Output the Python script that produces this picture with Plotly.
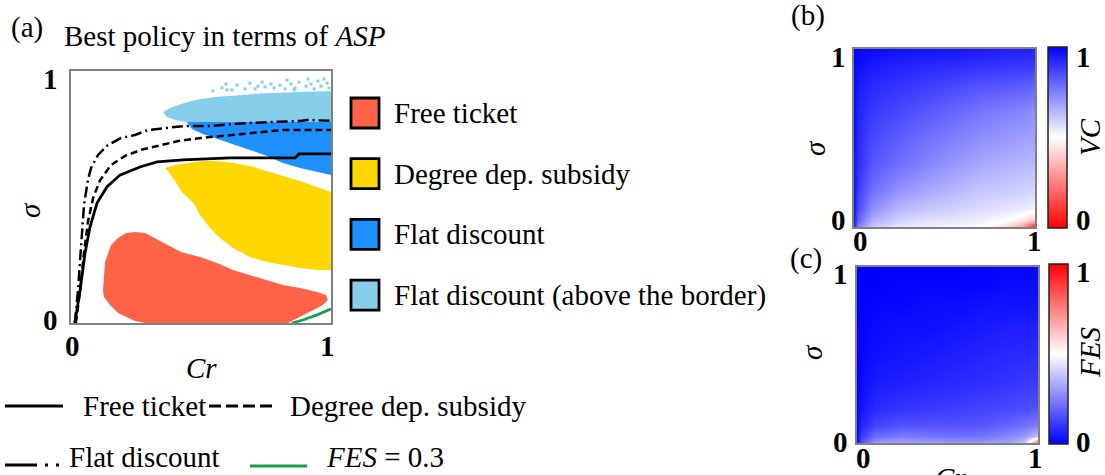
import plotly.graph_objects as go

W, H = 1105, 475
SERIF = "Liberation Serif"
FS = 29

# ---------------- panel (a): best-policy regions in (Cr, sigma) ----------------
free_x = [0.123, 0.127, 0.131, 0.154, 0.181, 0.212, 0.246, 0.285, 0.323, 0.373, 0.423,
          0.496, 0.562, 0.623, 0.688, 0.754, 0.815, 0.881, 0.946, 0.981, 0.988, 0.969,
          0.919, 0.869, 0.835, 0.285, 0.246, 0.181, 0.150, 0.127]
free_y = [0.131, 0.190, 0.242, 0.310, 0.337, 0.357, 0.361, 0.357, 0.337, 0.310, 0.282,
          0.262, 0.238, 0.210, 0.190, 0.171, 0.151, 0.139, 0.123, 0.111, 0.091, 0.071,
          0.044, 0.020, 0.0, 0.0, 0.008, 0.040, 0.071, 0.103]

degree_x = [0.362, 0.400, 0.450, 0.508, 0.562, 0.623, 0.688, 0.754, 0.815, 0.881, 0.946,
            1.0, 1.0, 0.946, 0.881, 0.815, 0.754, 0.688, 0.623, 0.573, 0.535, 0.496,
            0.477, 0.450, 0.423, 0.400, 0.373]
degree_y = [0.615, 0.627, 0.635, 0.643, 0.643, 0.635, 0.623, 0.603, 0.583, 0.563, 0.540,
            0.520, 0.210, 0.210, 0.218, 0.230, 0.242, 0.262, 0.298, 0.337, 0.377, 0.429,
            0.468, 0.496, 0.524, 0.563, 0.603]

flat_x = [0.446, 1.0, 1.0, 0.946, 0.881, 0.815, 0.754, 0.688, 0.623, 0.562, 0.508, 0.465]
flat_y = [0.798, 0.798, 0.587, 0.599, 0.615, 0.635, 0.663, 0.687, 0.710, 0.734, 0.750, 0.770]

above_x = [0.354, 0.381, 0.423, 0.477, 0.554, 0.650, 0.765, 0.881, 1.0, 1.0, 0.446, 0.400, 0.369]
above_y = [0.837, 0.853, 0.869, 0.885, 0.897, 0.905, 0.913, 0.917, 0.921, 0.798, 0.798, 0.806, 0.817]

# isolated "above the border" cells scattered over the upper edge
above_pts_x = [0.546, 0.581, 0.596, 0.619, 0.638, 0.669, 0.688, 0.708, 0.735, 0.746, 0.769,
               0.781, 0.804, 0.823, 0.831, 0.846, 0.862, 0.877, 0.904, 0.912, 0.923, 0.935,
               0.950, 0.962, 0.973, 0.985, 0.992, 0.600, 0.719, 0.858]
above_pts_y = [0.921, 0.933, 0.948, 0.925, 0.944, 0.929, 0.952, 0.929, 0.956, 0.937, 0.948,
               0.933, 0.944, 0.929, 0.964, 0.948, 0.933, 0.956, 0.940, 0.968, 0.948, 0.929,
               0.960, 0.940, 0.968, 0.952, 0.933, 0.925, 0.940, 0.925]

# ASP borders of the three policies and the FES = 0.3 contour
border_free_x = [0.015, 0.035, 0.054, 0.073, 0.100, 0.138, 0.188, 0.265, 0.331, 0.431, 0.612,
                 0.862, 0.877, 1.0]
border_free_y = [0.0, 0.131, 0.278, 0.381, 0.476, 0.540, 0.587, 0.619, 0.639, 0.647, 0.655,
                 0.655, 0.671, 0.671]
border_degree_x = [0.019, 0.035, 0.050, 0.065, 0.085, 0.112, 0.154, 0.208, 0.269, 0.346, 0.412,
                   0.500, 0.623, 0.688, 0.815, 1.0]
border_degree_y = [0.0, 0.131, 0.278, 0.401, 0.496, 0.567, 0.627, 0.663, 0.687, 0.706, 0.722,
                   0.734, 0.746, 0.754, 0.766, 0.766]
border_flat_x = [0.015, 0.027, 0.035, 0.042, 0.050, 0.065, 0.077, 0.104, 0.142, 0.192, 0.246,
                 0.296, 0.373, 0.438, 0.535, 0.688, 0.881, 0.908, 1.0]
border_flat_y = [0.0, 0.131, 0.250, 0.369, 0.468, 0.567, 0.615, 0.667, 0.706, 0.734, 0.746,
                 0.766, 0.774, 0.782, 0.782, 0.794, 0.802, 0.806, 0.802]
fes03_x = [0.850, 0.892, 0.946, 1.0]
fes03_y = [0.0, 0.012, 0.032, 0.056]

# ---------------- panels (b), (c): VC and FES over (Cr, sigma) ----------------
grid_cr = [0.0, 0.02, 0.1, 0.25, 0.4, 0.55, 0.7, 0.85, 0.93, 1.0]
grid_sigma = [0.0, 0.04, 0.1, 0.2, 0.35, 0.5, 0.65, 0.8, 0.9, 1.0]

vc = [
    [0.93, 0.74, 0.60, 0.55, 0.53, 0.52, 0.50, 0.42, 0.30, 0.04],
    [0.95, 0.80, 0.66, 0.59, 0.56, 0.55, 0.53, 0.50, 0.46, 0.38],
    [0.96, 0.85, 0.72, 0.64, 0.61, 0.59, 0.57, 0.55, 0.54, 0.52],
    [0.97, 0.88, 0.78, 0.71, 0.67, 0.64, 0.61, 0.60, 0.59, 0.58],
    [0.97, 0.91, 0.83, 0.78, 0.74, 0.70, 0.67, 0.65, 0.64, 0.63],
    [0.98, 0.92, 0.86, 0.82, 0.78, 0.75, 0.72, 0.70, 0.69, 0.68],
    [0.98, 0.93, 0.89, 0.86, 0.83, 0.80, 0.77, 0.75, 0.74, 0.72],
    [0.99, 0.95, 0.92, 0.90, 0.88, 0.86, 0.84, 0.83, 0.82, 0.81],
    [0.99, 0.97, 0.95, 0.93, 0.92, 0.91, 0.90, 0.89, 0.89, 0.88],
    [1.00, 0.99, 0.98, 0.97, 0.96, 0.96, 0.95, 0.94, 0.94, 0.93],
]

fes = [
    [0.03, 0.16, 0.30, 0.33, 0.31, 0.30, 0.30, 0.33, 0.40, 0.85],
    [0.02, 0.11, 0.21, 0.24, 0.23, 0.22, 0.23, 0.27, 0.30, 0.38],
    [0.01, 0.07, 0.13, 0.16, 0.16, 0.16, 0.17, 0.20, 0.22, 0.25],
    [0.01, 0.04, 0.08, 0.10, 0.11, 0.12, 0.13, 0.14, 0.15, 0.16],
    [0.00, 0.02, 0.05, 0.06, 0.07, 0.08, 0.09, 0.10, 0.11, 0.11],
    [0.00, 0.01, 0.03, 0.04, 0.05, 0.06, 0.07, 0.08, 0.08, 0.09],
    [0.00, 0.01, 0.02, 0.03, 0.03, 0.04, 0.05, 0.06, 0.06, 0.06],
    [0.00, 0.00, 0.01, 0.01, 0.02, 0.02, 0.03, 0.03, 0.03, 0.03],
    [0.00, 0.00, 0.00, 0.01, 0.01, 0.01, 0.01, 0.02, 0.02, 0.02],
    [0.00, 0.00, 0.00, 0.00, 0.00, 0.00, 0.01, 0.01, 0.01, 0.01],
]

policy_names = ["Free ticket", "Degree dep. subsidy", "Flat discount",
                "Flat discount (above the border)"]
policy_colors = ["#FF6347", "#FFD700", "#1E90FF", "#87CEEB"]


def px(x):
    return x / W


def py(y):
    return 1 - y / H


fig = go.Figure()

# filled regions
for xs, ys, col in [(above_x, above_y, policy_colors[3]),
                    (flat_x, flat_y, policy_colors[2]),
                    (degree_x, degree_y, policy_colors[1]),
                    (free_x, free_y, policy_colors[0])]:
    fig.add_trace(go.Scatter(x=xs, y=ys, fill="toself", fillcolor=col, mode="lines",
                             line=dict(width=0, color=col), hoverinfo="skip",
                             showlegend=False, xaxis="x", yaxis="y"))
fig.add_trace(go.Scatter(x=above_pts_x, y=above_pts_y, mode="markers",
                         marker=dict(symbol="square", size=3, color=policy_colors[3],
                                     line=dict(width=0)),
                         showlegend=False, xaxis="x", yaxis="y"))

# border lines
fig.add_trace(go.Scatter(x=border_flat_x, y=border_flat_y, mode="lines",
                         line=dict(color="black", width=2.5, dash="11px,4px,2px,4px"),
                         showlegend=False, xaxis="x", yaxis="y"))
fig.add_trace(go.Scatter(x=border_degree_x, y=border_degree_y, mode="lines",
                         line=dict(color="black", width=2.5, dash="7px,4px"),
                         showlegend=False, xaxis="x", yaxis="y"))
fig.add_trace(go.Scatter(x=border_free_x, y=border_free_y, mode="lines",
                         line=dict(color="black", width=2.8),
                         showlegend=False, xaxis="x", yaxis="y"))
fig.add_trace(go.Scatter(x=fes03_x, y=fes03_y, mode="lines",
                         line=dict(color="#1AA04A", width=2.8),
                         showlegend=False, xaxis="x", yaxis="y"))

cb_common = dict(xanchor="left", yanchor="middle", lenmode="fraction", thickness=19,
                 outlinewidth=1.5, outlinecolor="#222222", showticklabels=False,
                 ticks="", xpad=0, ypad=0)

fig.add_trace(go.Heatmap(
    x=grid_cr, y=grid_sigma, z=vc, zmin=0, zmax=1, zsmooth="best",
    colorscale=[[0, "rgb(255,0,0)"], [0.5, "rgb(255,255,255)"], [1, "rgb(0,0,255)"]],
    colorbar=dict(x=px(1048), y=py(137.5), len=181 / H, **cb_common),
    xaxis="x2", yaxis="y2", hoverinfo="skip"))

fig.add_trace(go.Heatmap(
    x=grid_cr, y=grid_sigma, z=fes, zmin=0, zmax=1, zsmooth="best",
    colorscale=[[0, "rgb(0,0,255)"], [0.5, "rgb(255,255,255)"], [1, "rgb(255,0,0)"]],
    colorbar=dict(x=px(1049), y=py(354), len=180 / H, **cb_common),
    xaxis="x3", yaxis="y3", hoverinfo="skip"))

frame = dict(range=[0, 1], showgrid=False, zeroline=False, showticklabels=False,
             ticks="", showline=True, mirror=True, linecolor="#808080", linewidth=1.5,
             fixedrange=True)

fig.update_layout(
    width=W, height=H, margin=dict(l=0, r=0, t=0, b=0),
    paper_bgcolor="white", plot_bgcolor="white", showlegend=False,
    font=dict(family=SERIF, size=FS, color="black"),
    xaxis=dict(domain=[px(71), px(331)], anchor="y", **frame),
    yaxis=dict(domain=[py(323), py(71)], anchor="x", **frame),
    xaxis2=dict(domain=[px(854), px(1035)], anchor="y2", **frame),
    yaxis2=dict(domain=[py(227), py(49)], anchor="x2", **frame),
    xaxis3=dict(domain=[px(857), px(1038)], anchor="y3", **frame),
    yaxis3=dict(domain=[py(443), py(267)], anchor="x3", **frame),
)

annotations = []


def text(x, y, s, size=FS, xanchor="center", angle=0):
    annotations.append(dict(x=px(x), y=py(y), xref="paper", yref="paper", text=s,
                            showarrow=False, xanchor=xanchor, yanchor="middle",
                            textangle=angle, borderpad=0,
                            font=dict(family=SERIF, size=size, color="black")))


# panel (a) labels
text(27, 27, "(a)")
text(63, 36, "Best policy in terms of <i>ASP</i>", xanchor="left")
text(50, 79, "<b>1</b>")
text(50, 320, "<b>0</b>")
text(72, 346, "<b>0</b>")
text(327, 346, "<b>1</b>")
text(201, 368, "<i>Cr</i>")
text(30, 210, "<i>σ</i>", angle=-90)

# policy legend (colour keys)
shapes = []
for i, (name, col) in enumerate(zip(policy_names, policy_colors)):
    yc = 113 + i * 60.7
    shapes.append(dict(type="rect", xref="paper", yref="paper",
                       x0=px(351), x1=px(379), y0=py(yc + 15), y1=py(yc - 15),
                       fillcolor=col, line=dict(color="black", width=2.8)))
    text(393, yc, name, xanchor="left")


# line-style legend
def key_line(x0, x1, y, color, width, dash):
    shapes.append(dict(type="line", xref="paper", yref="paper", x0=px(x0), x1=px(x1),
                       y0=py(y), y1=py(y), line=dict(color=color, width=width, dash=dash)))


key_line(5, 63, 406, "black", 2.8, "solid")
text(82, 406, "Free ticket", xanchor="left")
key_line(209, 273, 406, "black", 3, "12px,5px")
text(289, 406, "Degree dep. subsidy", xanchor="left")
key_line(5, 62, 465, "black", 3, "32px,8px,3px,8px,3px,100px")
text(68, 457, "Flat discount", xanchor="left")
key_line(250, 307, 466, "#1AA04A", 2.8, "solid")
text(325, 457, "<i>FES</i> = 0.3", xanchor="left")

# panel (b) labels
text(808, 16, "(b)")
text(838, 57, "<b>1</b>")
text(838, 220, "<b>0</b>")
text(860, 241, "<b>0</b>")
text(1034, 241, "<b>1</b>")
text(815, 148, "<i>σ</i>", angle=-90)
text(1083, 57, "<b>1</b>")
text(1083, 220, "<b>0</b>")
text(1090, 137, "<i>VC</i>", angle=-90)

# panel (c) labels
text(806, 258, "(c)")
text(840, 274, "<b>1</b>")
text(840, 442, "<b>0</b>")
text(863, 458, "<b>0</b>")
text(1035, 458, "<b>1</b>")
text(812, 352, "<i>σ</i>", angle=-90)
text(950, 478, "<i>Cr</i>")
text(1083, 272, "<b>1</b>")
text(1083, 442, "<b>0</b>")
text(1090, 353, "<i>FES</i>", angle=-90)

fig.update_layout(annotations=annotations, shapes=shapes)

fig.write_html("out.html")
